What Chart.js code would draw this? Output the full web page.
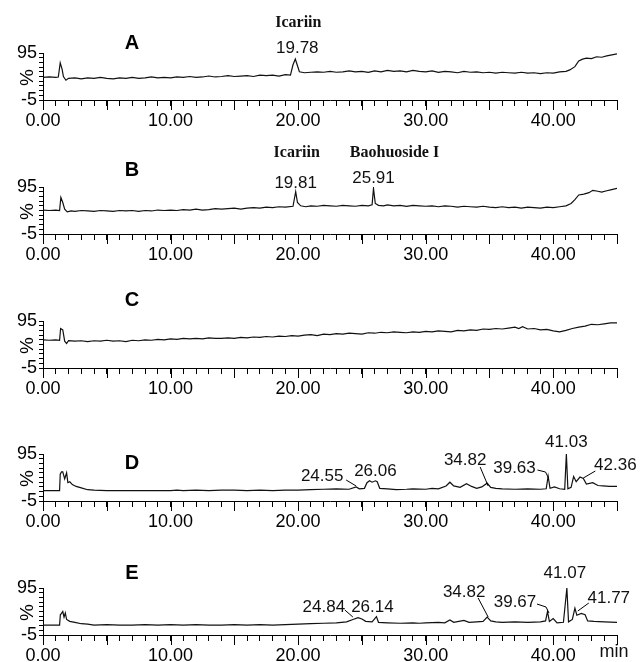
<!DOCTYPE html>
<html>
<head>
<meta charset="utf-8">
<script src="https://cdn.jsdelivr.net/npm/chart.js@4.4.1/dist/chart.umd.min.js"></script>
<style>
  html, body { margin: 0; padding: 0; background: #fff; width: 640px; height: 662px; overflow: hidden; }
  body { position: relative; }
  canvas { position: absolute; left: 0; }
</style>
</head>
<body>
<canvas id="chartA" width="640" height="140"></canvas>
<canvas id="chartB" width="640" height="140"></canvas>
<canvas id="chartC" width="640" height="140"></canvas>
<canvas id="chartD" width="640" height="140"></canvas>
<canvas id="chartE" width="640" height="140"></canvas>
<script>
// Traces: [time (min), relative intensity (%)]
const traceA = [[0,43],[0.5,44],[1,43],[1.2,44],[1.35,74],[1.5,60],[1.6,45],[1.8,37],[2,41],[2.5,42],[3,40],[3.5,42],[4,41],[4.5,43],[5,41],[5.5,40],[6,42],[6.5,41],[7,43],[7.5,41],[8,42],[8.5,44],[9,42],[9.5,43],[10,42],[10.5,44],[11,43],[11.5,45],[12,43],[12.5,44],[13,46],[13.5,44],[14,45],[14.5,47],[15,45],[15.5,46],[16,47],[16.5,45],[17,48],[17.5,47],[18,48],[18.5,46],[19,49],[19.4,48],[19.6,70],[19.78,82],[19.95,68],[20.1,55],[20.5,53],[21,54],[21.5,55],[22,54],[22.5,56],[23,54],[23.5,55],[24,57],[24.5,55],[25,56],[25.5,54],[26,57],[26.5,55],[27,58],[27.5,56],[28,57],[28.5,55],[29,58],[29.5,56],[30,55],[30.5,57],[31,54],[31.5,56],[32,55],[32.5,53],[33,56],[33.5,54],[34,55],[34.5,53],[35,54],[35.5,52],[36,54],[36.5,53],[37,52],[37.5,54],[38,52],[38.5,53],[39,51],[39.5,53],[40,52],[40.5,55],[41,56],[41.3,59],[41.7,66],[42,78],[42.3,82],[42.6,84],[43,83],[43.4,87],[43.8,86],[44.2,89],[44.6,91],[45,93]];
const traceB = [[0,46],[0.5,45],[1,46],[1.3,45],[1.4,73],[1.55,62],[1.7,48],[1.9,42],[2.2,44],[2.5,43],[3,45],[3.5,44],[4,43],[4.5,45],[5,44],[5.5,43],[6,45],[6.5,44],[7,45],[7.5,43],[8,45],[8.5,44],[9,46],[9.5,45],[10,46],[10.5,45],[11,47],[11.5,46],[12,48],[12.5,46],[13,47],[13.5,49],[14,48],[14.5,49],[15,50],[15.5,48],[16,50],[16.5,51],[17,50],[17.5,52],[18,51],[18.5,53],[19,52],[19.6,54],[19.81,85],[19.95,62],[20.2,55],[20.6,53],[21,55],[21.5,54],[22,56],[22.5,55],[23,54],[23.5,56],[24,55],[24.5,54],[25,56],[25.5,55],[25.8,57],[25.91,92],[26.05,60],[26.3,56],[26.7,55],[27,57],[27.5,55],[28,56],[28.5,54],[29,56],[29.5,55],[30,54],[30.5,55],[31,53],[31.5,55],[32,54],[32.5,52],[33,54],[33.5,53],[34,52],[34.5,54],[35,52],[35.5,51],[36,53],[36.5,51],[37,52],[37.5,50],[38,52],[38.5,51],[39,50],[39.5,52],[40,51],[40.5,53],[41,55],[41.4,60],[41.7,68],[42,78],[42.4,80],[42.8,83],[43.1,88],[43.5,86],[43.8,84],[44.2,87],[44.5,89],[45,92]];
const traceC = [[0,55],[0.5,54],[1,55],[1.3,54],[1.38,79],[1.55,76],[1.7,52],[1.85,47],[2,53],[2.5,52],[3,53],[3.5,51],[4,53],[4.5,52],[5,54],[5.5,52],[6,53],[6.5,51],[7,54],[7.5,53],[8,55],[8.5,54],[9,56],[9.5,55],[10,57],[10.5,56],[11,58],[11.5,57],[12,58],[12.5,57],[13,59],[13.5,58],[14,58],[14.5,59],[15,58],[15.5,60],[16,59],[16.5,61],[17,60],[17.5,62],[18,61],[18.5,63],[19,62],[19.5,64],[20,63],[20.5,65],[21,66],[21.5,64],[22,67],[22.5,66],[23,68],[23.5,67],[24,69],[24.5,68],[25,67],[25.5,70],[26,69],[26.5,71],[27,70],[27.5,72],[28,71],[28.5,70],[29,72],[29.5,71],[30,73],[30.5,72],[31,74],[31.5,73],[32,72],[32.5,75],[33,74],[33.5,76],[34,75],[34.5,78],[35,77],[35.5,79],[36,78],[36.5,80],[37,82],[37.3,79],[37.6,83],[38,78],[38.5,79],[39,76],[39.5,77],[40,74],[40.5,72],[41,75],[41.5,79],[42,82],[42.5,84],[43,88],[43.5,87],[44,89],[44.5,91],[45,91]];
const traceD = [[0,17],[1,17],[1.3,17],[1.35,52],[1.45,57],[1.55,57],[1.7,42],[1.85,55],[1.95,34],[2.1,36],[2.3,30],[2.6,26],[3,23],[3.5,19],[4,18],[5,17],[6,17],[8,17],[10,17],[10.5,18],[11,17],[12,18],[13,17],[14,18],[15,18],[16,17],[17,18],[18,17],[19,18],[20,18],[21,19],[22,20],[23,21],[24,20],[24.55,25],[24.8,21],[25.2,22],[25.4,34],[25.6,38],[25.8,35],[26.06,38],[26.2,36],[26.4,22],[27,21],[27.7,19],[28.5,20],[29,21],[30,20],[30.5,22],[31,21],[31.6,27],[31.9,35],[32.2,27],[32.7,24],[33.2,32],[33.6,26],[34,22],[34.4,25],[34.82,33],[35.1,24],[35.5,22],[36,21],[37,20],[38,21],[39,20],[39.45,21],[39.6,48],[39.75,22],[40.1,25],[40.5,21],[40.9,20],[41.03,95],[41.15,21],[41.4,24],[41.6,47],[41.8,36],[42.1,46],[42.36,43],[42.6,31],[43.1,34],[43.5,28],[43.9,27],[44.4,26],[45,26]];
const traceE = [[0,16],[1,16],[1.3,16],[1.36,38],[1.45,41],[1.55,45],[1.65,33],[1.75,42],[1.85,28],[2.1,24],[2.5,22],[3,19],[3.5,18],[4,16],[5,17],[6,16],[7,16],[8,17],[9,16],[10,17],[11,16],[12,17],[13,16],[14,16],[15,17],[16,16],[17,17],[18,16],[19,17],[20,18],[21,19],[22,20],[23,21],[23.8,23],[24.3,28],[24.7,32],[25,29],[25.3,24],[25.8,23],[26.14,34],[26.3,22],[27,21],[28,20],[29,21],[29.5,20],[30,21],[31,22],[31.5,21],[31.9,27],[32.2,22],[32.6,24],[33,26],[33.4,22],[34,23],[34.5,24],[34.82,33],[35.1,25],[35.5,23],[36,22],[37,23],[38,22],[39,23],[39.4,25],[39.55,45],[39.7,24],[40,30],[40.3,21],[40.8,22],[41.07,95],[41.2,23],[41.5,28],[41.7,52],[41.85,37],[42.2,41],[42.5,38],[42.7,25],[43.2,24],[44,23],[45,22]];

// Labelled peaks (retention times) and compound names
const peaksA = [19.78];
const peaksB = [19.81, 25.91];
const peaksC = [];
const peaksD = [24.55, 26.06, 34.82, 39.63, 41.03, 42.36];
const peaksE = [24.84, 26.14, 34.82, 39.67, 41.07, 41.77];
const namesA = ['Icariin'];
const namesB = ['Icariin', 'Baohuoside I'];

// Axis ticks
const xTicks = Array.from({length: 46}, (_, i) => i);
const xLabelTicks = [0, 10, 20, 30, 40];
const yTicks = [-5, 5, 15, 25, 35, 45, 55, 65, 75, 85, 95];
const yLabelTicks = [-5, 95];

const FONT = '"Liberation Sans", Arial, sans-serif';

// label placement relative to (peak x, plot top); leader points likewise
const panels = [
  { id: 'chartA', title: 'A', trace: traceA, peaks: peaksA, names: namesA, plotTop: 53, titleDy: -10,
    place: [{dx: 2, dy: -5}], namePlace: [{dx: 3, dy: -30}] },
  { id: 'chartB', title: 'B', trace: traceB, peaks: peaksB, names: namesB, plotTop: 187, titleDy: -17,
    place: [{dx: 0, dy: -4}, {dx: 0, dy: -9}], namePlace: [{dx: 1, dy: -34}, {dx: 21, dy: -34}] },
  { id: 'chartC', title: 'C', trace: traceC, peaks: peaksC, names: [], plotTop: 321, titleDy: -21,
    place: [], namePlace: [] },
  { id: 'chartD', title: 'D', trace: traceD, peaks: peaksD, names: [], plotTop: 454, titleDy: 9,
    place: [
      {dx: -34, dy: 22, leader: [[-10, 26], [0, 32]]},
      {dx: 0, dy: 17},
      {dx: -22, dy: 6, leader: [[-7, 13], [1, 32]]},
      {dx: -34, dy: 14, leader: [[-11, 16], [-3, 18], [0, 24]]},
      {dx: 0, dy: -12},
      {dx: 32, dy: 11, leader: [[12, 17], [0, 24]]}
    ], namePlace: [] },
  { id: 'chartE', title: 'E', trace: traceE, peaks: peaksE, names: [], plotTop: 588, titleDy: -15, unit: true,
    place: [
      {dx: -36, dy: 19, leader: [[-15, 22], [-7, 29]]},
      {dx: -4, dy: 19},
      {dx: -23, dy: 4, leader: [[-9, 10], [1, 29]]},
      {dx: -34, dy: 14, leader: [[-12, 16], [-3, 19], [0, 25]]},
      {dx: -2, dy: -15},
      {dx: 33, dy: 10, leader: [[13, 15], [2, 23]]}
    ], namePlace: [] }
];

const decorations = {
  id: 'decorations',
  afterDraw(chart, args, opts) {
    const p = opts.panel;
    const ctx = chart.ctx;
    const xs = chart.scales.x;
    const area = chart.chartArea;
    ctx.save();
    ctx.strokeStyle = '#000';
    ctx.fillStyle = '#000';
    ctx.lineWidth = 1;

    // longer ticks every 5 min
    xTicks.filter(v => v % 5 === 0).forEach(v => {
      const px = Math.round(xs.getPixelForValue(v)) + 0.5;
      ctx.beginPath();
      ctx.moveTo(px, area.bottom);
      ctx.lineTo(px, area.bottom + 10);
      ctx.stroke();
    });

    // rotated % label
    ctx.save();
    ctx.font = '19px ' + FONT;
    ctx.translate(28, (area.top + area.bottom) / 2 + 1);
    ctx.rotate(-Math.PI / 2);
    ctx.textAlign = 'center';
    ctx.textBaseline = 'middle';
    ctx.fillText('%', 0, 0);
    ctx.restore();

    ctx.textAlign = 'center';
    ctx.textBaseline = 'middle';

    // panel letter
    ctx.font = 'bold 20px ' + FONT;
    ctx.fillText(p.title, 132, area.top + p.titleDy);

    // retention time labels
    ctx.font = '17px ' + FONT;
    ctx.fillStyle = '#111';
    p.peaks.forEach((t, i) => {
      const px = xs.getPixelForValue(t);
      const pl = p.place[i];
      ctx.fillText(t.toFixed(2), px + pl.dx, area.top + pl.dy);
      if (pl.leader) {
        ctx.beginPath();
        pl.leader.forEach(([lx, ly], k) => {
          if (k === 0) ctx.moveTo(px + lx, area.top + ly);
          else ctx.lineTo(px + lx, area.top + ly);
        });
        ctx.stroke();
      }
    });

    // compound names
    ctx.font = 'bold 16px "Liberation Serif", "Times New Roman", serif';
    p.names.forEach((n, i) => {
      const px = xs.getPixelForValue(p.peaks[i]);
      const pl = p.namePlace[i];
      ctx.fillText(n, px + pl.dx, area.top + pl.dy);
    });

    if (p.unit) {
      ctx.font = '18px ' + FONT;
      ctx.fillText('min', 614, area.bottom + 17);
    }
    ctx.restore();
  }
};

panels.forEach(p => {
  const canvas = document.getElementById(p.id);
  canvas.style.top = (p.plotTop - 60) + 'px';
  new Chart(canvas.getContext('2d'), {
    type: 'line',
    data: {
      datasets: [{
        data: p.trace,
        borderColor: '#111',
        borderWidth: 1.2,
        pointRadius: 0,
        tension: 0,
        fill: false
      }]
    },
    options: {
      responsive: false,
      animation: false,
      layout: { padding: { top: 60, left: 0, right: 23, bottom: 0 } },
      plugins: { legend: { display: false }, tooltip: { enabled: false }, decorations: { panel: p } },
      scales: {
        x: {
          type: 'linear',
          min: 0,
          max: 45,
          afterBuildTicks: s => { s.ticks = xTicks.map(v => ({ value: v })); },
          afterFit: s => { s.height = 33; },
          grid: { display: true, drawOnChartArea: false, tickLength: 6, color: '#000' },
          border: { display: true, color: '#000', width: 1 },
          ticks: {
            autoSkip: false,
            maxRotation: 0,
            padding: 4,
            color: '#000',
            font: { family: FONT, size: 18 },
            callback: v => xLabelTicks.includes(v) ? v.toFixed(2) : ''
          }
        },
        y: {
          min: -5,
          max: 95,
          afterBuildTicks: s => { s.ticks = yTicks.map(v => ({ value: v })); },
          afterFit: s => { s.width = 43; },
          grid: { display: true, drawOnChartArea: false, tickLength: 4, color: '#000' },
          border: { display: true, color: '#000', width: 1 },
          ticks: {
            autoSkip: false,
            padding: 2,
            color: '#000',
            font: { family: FONT, size: 18 },
            callback: v => yLabelTicks.includes(v) ? String(v) : ''
          }
        }
      }
    },
    plugins: [decorations]
  });
});
</script>
</body>
</html>
